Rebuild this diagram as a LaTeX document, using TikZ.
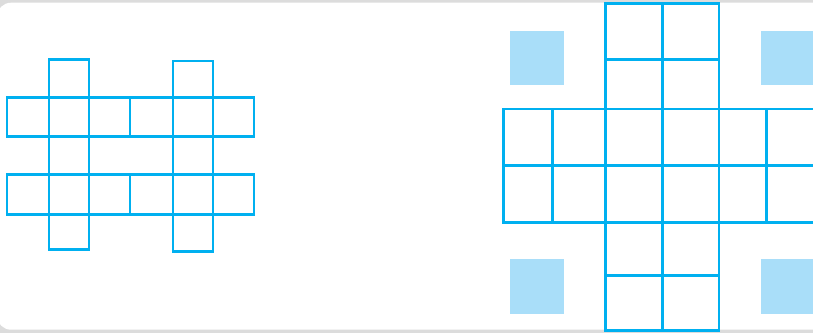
\documentclass[tikz,border=0pt]{standalone}
\definecolor{gridline}{HTML}{00B0F0}
\definecolor{lightsq}{HTML}{A9DEF9}
\definecolor{frame}{HTML}{DCDCDC}
\begin{document}
\begin{tikzpicture}[x=1pt,y=-1pt,
  gridstyle/.style={draw=gridline,line width=2.7pt,line join=miter},
  sqfill/.style={fill=lightsq}]
\useasboundingbox (0,0) rectangle (813,333);
\fill[frame] (0,0) rectangle (813,333);
\fill[white,rounded corners=14pt] (-3,2.7) rectangle (840,329.7);
% left figure
\draw[gridstyle] (7,97.7) rectangle (254,136.7);
\draw[gridstyle] (7,174.3) rectangle (254,214.3);
\foreach \x in {130} {
  \draw[gridstyle] (\x,97.7) -- (\x,136.7);
  \draw[gridstyle] (\x,174.3) -- (\x,214.3);
}
\draw[gridstyle] (49,59.3) rectangle (89,249.3);
\draw[gridstyle] (173,61) rectangle (213,251.7);
% right figure
\fill[sqfill] (509.7,30.7) rectangle (564.3,85.3);
\fill[sqfill] (509.7,259.3) rectangle (564.3,314);
\fill[sqfill] (760.7,30.7) rectangle (820,85.3);
\fill[sqfill] (760.7,259.3) rectangle (820,314);
\draw[gridstyle] (605.7,3.3) rectangle (719,330.7);
\draw[gridstyle] (662.3,3.3) -- (662.3,330.7);
\draw[gridstyle] (605.7,59.3) -- (719,59.3);
\draw[gridstyle] (605.7,275.7) -- (719,275.7);
\draw[gridstyle] (503.3,109) rectangle (830,222.3);
\draw[gridstyle] (503.3,165.7) -- (830,165.7);
\draw[gridstyle] (552.7,109) -- (552.7,222.3);
\draw[gridstyle] (766.7,109) -- (766.7,222.3);
\end{tikzpicture}
\end{document}
